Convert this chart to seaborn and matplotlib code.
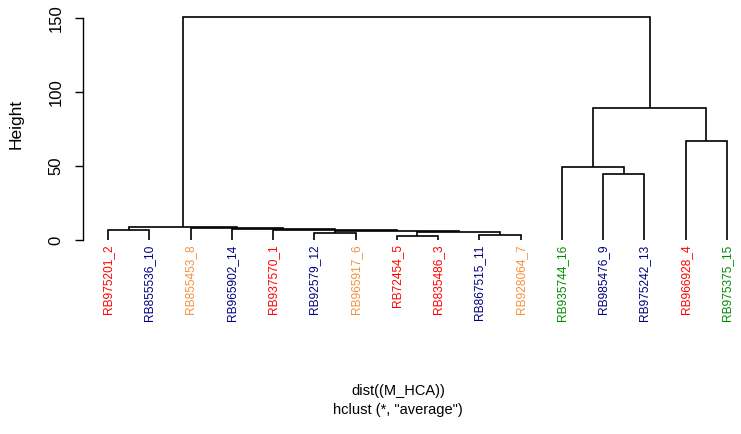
import matplotlib
matplotlib.use('Agg')
import matplotlib.pyplot as plt
import seaborn as sns

# leaf labels in dendrogram order
labels = ['RB975201_2', 'RB855536_10', 'RB855453_8', 'RB965902_14', 'RB937570_1',
          'RB92579_12', 'RB965917_6', 'RB72454_5', 'RB835486_3', 'RB867515_11',
          'RB928064_7', 'RB935744_16', 'RB985476_9', 'RB975242_13', 'RB966928_4',
          'RB975375_15']
label_colors = ['#FF0000', '#000080', '#F7913D', '#000080', '#FF0000',
                '#000080', '#F7913D', '#FF0000', '#FF0000', '#000080',
                '#F7913D', '#008B00', '#000080', '#000080', '#FF0000',
                '#008B00']

# hclust style merge table: negative = leaf (1-based position), positive = earlier merge
merge_a = [-8, -10, -6, 1, 3, -1, -5, -4, -3, 6, -13, -12, -15, 12, 10]
merge_b = [-9, -11, -7, 2, 4, -2, 5, 7, 8, 9, -14, 11, -16, 13, 14]
heights = [2.8, 3.4, 4.7, 5.2, 6.2, 6.8, 7.0, 7.6, 8.2, 8.8, 44.6, 49.5, 67.0, 89.5, 151.0]

sns.set_style('white')
plt.rcParams['font.family'] = ['Liberation Sans Narrow', 'Liberation Sans', 'DejaVu Sans']
plt.rcParams['text.color'] = 'black'
plt.rcParams['ytick.color'] = 'black'
plt.rcParams['axes.labelcolor'] = 'black'

fig = plt.figure(figsize=(7.41, 4.34), dpi=100)
W, H = 741, 434
ax = fig.add_axes([83 / W, 1 - 248.9 / H, (W - 83) / W, (248.9 - 7.64) / H])

# x position / height of every node
merge_x = []


def node(n):
    if n < 0:
        return -n, 0.0
    return merge_x[n - 1], heights[n - 1]


for a, b, h in zip(merge_a, merge_b, heights):
    xa, ha = node(a)
    xb, hb = node(b)
    ax.plot([xa, xa, xb, xb], [ha, h, h, hb], color='black', lw=1.2,
            solid_capstyle='butt', solid_joinstyle='miter')
    merge_x.append((xa + xb) / 2)

for i, (lab, col) in enumerate(zip(labels, label_colors)):
    ax.text(i + 1, -3, lab, rotation=90, ha='center', va='top', color=col,
            fontsize=8.6)

ax.set_xlim(1 - 25 / 41.27, 16 + 14 / 41.27)
ax.set_ylim(-6.04, 157.0)
ax.set_xticks([])
ax.set_yticks([0, 50, 100, 150])
ax.tick_params(axis='y', length=5.8, width=1.0, pad=8.0, labelsize=12,
               labelrotation=90, left=True, color='black', labelcolor='black')
for t in ax.get_yticklabels():
    t.set_va('center')
sns.despine(ax=ax, top=True, right=True, bottom=True)
ax.spines['left'].set_bounds(0, 150)
ax.spines['left'].set_color('black')
ax.spines['left'].set_linewidth(1.0)

fig.text(16 / W, 1 - 124 / H, 'Height', rotation=90, ha='center', va='center',
         fontsize=12.5)
fig.text(398 / W, 1 - 391 / H, 'dist((M_HCA))', ha='center', va='center', fontsize=10.5)
fig.text(398 / W, 1 - 410 / H, 'hclust (*, "average")', ha='center', va='center',
         fontsize=10.5)

fig.savefig('out.png', dpi=100)
